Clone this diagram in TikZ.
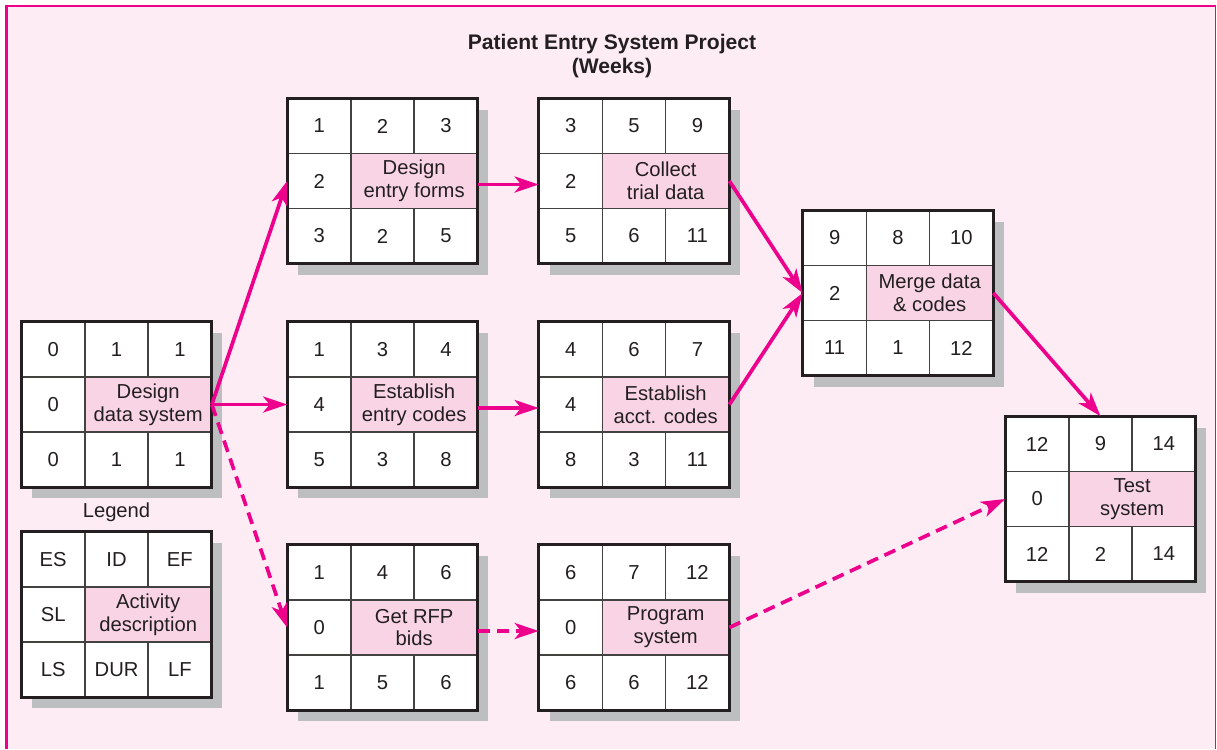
\documentclass[tikz,border=0pt]{standalone}
\usepackage{fontspec}
\setmainfont{Liberation Sans}
\usetikzlibrary{arrows.meta,shadows}

\definecolor{pagepink}{RGB}{253,236,244}
\definecolor{cellpink}{RGB}{249,212,229}
\definecolor{netmagenta}{RGB}{236,0,140}
\definecolor{shadowgray}{RGB}{188,190,192}
\definecolor{inkgray}{RGB}{35,31,32}

% fills one activity box: name, top row, slack, description, bottom row
\newcommand\actcells[5]{%
  \begin{scope}[shift={(#1.center)}]
    \fill[cellpink] (-0.633,-0.55) rectangle (1.9,0.55);
    \draw[gridline] (-0.633,1.65) -- (-0.633,-1.65);
    \draw[gridline] (0.633,1.65) -- (0.633,0.55) (0.633,-0.55) -- (0.633,-1.65);
    \draw[gridline] (-1.9,0.55) -- (1.9,0.55) (-1.9,-0.55) -- (1.9,-0.55);
    \foreach \entry [count=\k] in {#2}
      \node[cell] (#1-t\k) at (-2.533+1.267*\k,1.1) {\entry};
    \node[cell] (#1-sl) at (-1.267,0) {#3};
    \node[cell] (#1-desc) at (0.633,0) {#4};
    \foreach \entry [count=\k] in {#5}
      \node[cell] (#1-b\k) at (-2.533+1.267*\k,-1.1) {\entry};
  \end{scope}
  \draw[boxedge] (#1.south west) rectangle (#1.north east);
}

\begin{document}
\begin{tikzpicture}[
  every node/.style={text=inkgray},
  actbox/.style={
    minimum width=3.8cm,
    minimum height=3.3cm,
    inner sep=0pt,
    fill=white,
    drop shadow={shadow xshift=0.21cm, shadow yshift=-0.22cm,
      fill=shadowgray, opacity=1}
  },
  boxedge/.style={draw=inkgray, line width=1.8pt},
  gridline/.style={draw=inkgray!85, line width=0.8pt},
  cell/.style={font=\fontsize{11.5}{13}\selectfont, align=center, inner sep=1pt},
  title/.style={font=\fontsize{12}{14}\selectfont\bfseries, align=center},
  arrow/.style={-{Stealth[length=0.48cm, width=0.32cm, inset=0.13cm]},
    draw=netmagenta, line width=2.1pt},
  dasharrow/.style={arrow, dash pattern=on 0.24cm off 0.14cm}
]
\useasboundingbox (0,0) rectangle (24.34,-14.98);
\fill[pagepink] (0.13,-0.12) rectangle (24.31,-14.98);
\draw[netmagenta, line width=1.7pt] (0.13,-14.98) -- (0.13,-0.12) -- (24.31,-0.12);
\draw[netmagenta, line width=1pt] (24.31,-0.12) -- (24.31,-14.98);

\node[title] (title) at (12.24,-1.12) {Patient Entry System Project\\(Weeks)};

% activity boxes
\node[actbox] (dds) at (2.33,-8.09) {};
\node[actbox] (def) at (7.65,-3.62) {};
\node[actbox] (ctd) at (12.68,-3.62) {};
\node[actbox] (eec) at (7.65,-8.09) {};
\node[actbox] (eac) at (12.68,-8.09) {};
\node[actbox] (rfp) at (7.65,-12.55) {};
\node[actbox] (prg) at (12.68,-12.55) {};
\node[actbox] (mdc) at (17.96,-5.86) {};
\node[actbox] (tst) at (22.01,-9.98) {};
\node[actbox] (leg) at (2.33,-12.29) {};

\actcells{dds}{0,1,1}{0}{Design\\data system}{0,1,1}
\actcells{def}{1,2,3}{2}{Design\\entry forms}{3,2,5}
\actcells{ctd}{3,5,9}{2}{Collect\\trial data}{5,6,11}
\actcells{eec}{1,3,4}{4}{Establish\\entry codes}{5,3,8}
\actcells{eac}{4,6,7}{4}{Establish\\acct. codes}{8,3,11}
\actcells{rfp}{1,4,6}{0}{Get RFP\\bids}{1,5,6}
\actcells{prg}{6,7,12}{0}{Program\\system}{6,6,12}
\actcells{mdc}{9,8,10}{2}{Merge data\\\& codes}{11,1,12}
\actcells{tst}{12,9,14}{0}{Test\\system}{12,2,14}
\actcells{leg}{ES,ID,EF}{SL}{Activity\\description}{LS,DUR,LF}

\node[cell] (legtitle) at (2.33,-10.24) {Legend};

% precedence arrows
\draw[arrow] (dds.east) -- (def.west);
\draw[arrow] (dds.east) -- (eec.west);
\draw[dasharrow] (dds.east) -- (rfp.west);
\draw[arrow] ([yshift=-2pt]def.east) -- ([yshift=-2pt]ctd.west);
\draw[arrow] ([yshift=-2pt]eec.east) -- ([yshift=-2pt]eac.west);
\draw[dasharrow] ([yshift=-2pt]rfp.east) -- ([yshift=-2pt]prg.west);
\draw[arrow] (ctd.east) -- (mdc.west);
\draw[arrow] (eac.east) -- (mdc.west);
\draw[dasharrow] (prg.east) -- (tst.west);
\draw[arrow] (mdc.east) -- (tst.north);
\end{tikzpicture}
\end{document}
